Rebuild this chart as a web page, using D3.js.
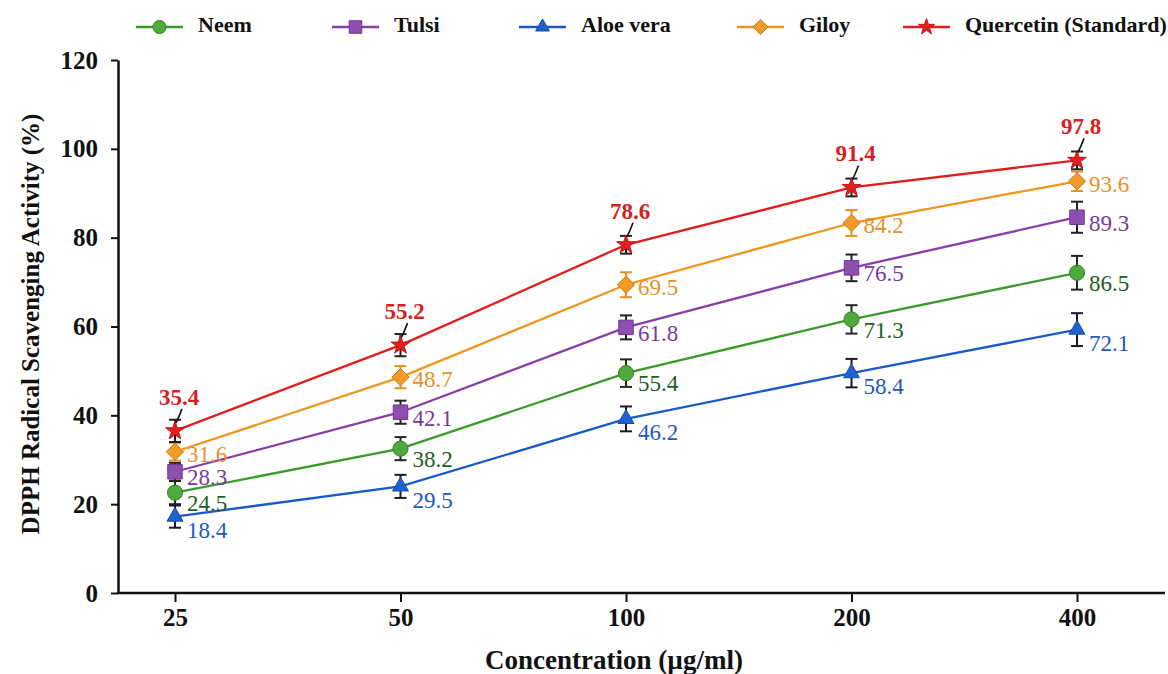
<html><head>
<meta charset="utf-8">
<title>DPPH Radical Scavenging Activity</title>
<script src="https://d3js.org/d3.v7.min.js"></script>
<style>
  body { margin: 0; background: #ffffff; }
  svg text { font-family: "Liberation Serif", "Times New Roman", serif; }
</style>
</head>
<body>
<svg id="plot" width="1168" height="674"></svg>
<script>

// concentrations (µg/ml)
const concentrations = ["25", "50", "100", "200", "400"];

const seriesNames = ["Neem", "Tulsi", "Aloe vera", "Giloy", "Quercetin (Standard)"];

// plotted means
const neemValues      = [22.6, 32.5, 49.5, 61.6, 72.1];
const tulsiValues     = [27.3, 40.7, 59.8, 73.2, 84.6];
const aloeValues      = [17.2, 24.0, 39.2, 49.5, 59.3];
const giloyValues     = [31.8, 48.6, 69.4, 83.3, 92.7];
const quercetinValues = [36.5, 55.8, 78.4, 91.3, 97.4];

// error bar half-lengths
const neemErr      = [2.6, 2.6, 3.1, 3.2, 3.8];
const tulsiErr     = [2.0, 2.6, 2.7, 3.0, 3.5];
const aloeErr      = [2.5, 2.6, 2.8, 3.2, 3.7];
const giloyErr     = [2.0, 2.5, 2.8, 2.9, 2.2];
const quercetinErr = [2.5, 2.5, 2.0, 2.0, 2.0];

// value labels as printed in the figure
const neemLabels      = ["24.5", "38.2", "55.4", "71.3", "86.5"];
const tulsiLabels     = ["28.3", "42.1", "61.8", "76.5", "89.3"];
const aloeLabels      = ["18.4", "29.5", "46.2", "58.4", "72.1"];
const giloyLabels     = ["31.6", "48.7", "69.5", "84.2", "93.6"];
const quercetinLabels = ["35.4", "55.2", "78.6", "91.4", "97.8"];

const yTicks = [0, 20, 40, 60, 80, 100, 120];

const symDiamond = d3.symbolDiamond2 || d3.symbolDiamond;

const series = [
  {name: seriesNames[0], values: neemValues, err: neemErr, labels: neemLabels,
   color: "#3a9a2c", fill: "#4eaa3c", text: "#1d5e22", errColor: "#1f2a1f",
   symbol: d3.symbolCircle, size: 180, labelDy: 13},
  {name: seriesNames[1], values: tulsiValues, err: tulsiErr, labels: tulsiLabels,
   color: "#8a3fa8", fill: "#8e4fb0", text: "#7a3a9c", errColor: "#222",
   symbol: d3.symbolSquare, size: 210, labelDy: 8},
  {name: seriesNames[2], values: aloeValues, err: aloeErr, labels: aloeLabels,
   color: "#1a5ac8", fill: "#1f63d0", text: "#1d58c0", errColor: "#1a1a2a",
   symbol: d3.symbolTriangle, size: 110, labelDy: 16},
  {name: seriesNames[3], values: giloyValues, err: giloyErr, labels: giloyLabels,
   color: "#f0961e", fill: "#f29a28", text: "#ec8f26", errColor: "#e8901e",
   symbol: symDiamond, size: 190, labelDy: 5},
  {name: seriesNames[4], values: quercetinValues, err: quercetinErr, labels: quercetinLabels,
   color: "#e01e1e", fill: "#e21f1f", text: "#d81e1e", errColor: "#222",
   symbol: d3.symbolStar, size: 110, labelDy: 0}
];

const svg = d3.select("svg#plot");

const x = d3.scalePoint().domain(concentrations).range([175, 1077]);
const y = d3.scaleLinear().domain([0, 120]).range([593, 60]);
const plotLeft = 118, plotRight = 1165;

// ---- axes ----
let yAxis = svg.append("g")
   .attr("transform", "translate(" + plotLeft + ",0)")
   .call(d3.axisLeft(y).tickValues(yTicks).tickSize(7).tickSizeOuter(0));
yAxis.select(".domain").attr("stroke", "#111").attr("stroke-width", 2.5);
yAxis.selectAll(".tick line").attr("stroke", "#111").attr("stroke-width", 2);
yAxis.selectAll(".tick text")
     .attr("x", -20)
     .attr("font-size", 25).attr("font-weight", "bold").attr("fill", "#111")
     .style("font-family", "'Liberation Serif', serif");

let xAxis = svg.append("g")
   .attr("transform", "translate(0," + y(0) + ")")
   .call(d3.axisBottom(x).tickSize(9).tickSizeOuter(0));
xAxis.select(".domain").remove();
xAxis.selectAll(".tick line").attr("stroke", "#111").attr("stroke-width", 2);
xAxis.selectAll(".tick text")
     .attr("y", 15)
     .attr("font-size", 25).attr("font-weight", "bold").attr("fill", "#111")
     .style("font-family", "'Liberation Serif', serif");
svg.append("line")
   .attr("x1", plotLeft - 1).attr("x2", plotRight)
   .attr("y1", y(0)).attr("y2", y(0))
   .attr("stroke", "#111").attr("stroke-width", 2.5);

// axis titles
svg.append("text")
   .attr("transform", "translate(33,324) rotate(-90)")
   .attr("text-anchor", "middle").attr("dominant-baseline", "middle")
   .attr("font-size", 25).attr("font-weight", "bold").attr("fill", "#111")
   .text("DPPH Radical Scavenging Activity (%)");

svg.append("text")
   .attr("x", 614).attr("y", 663)
   .attr("text-anchor", "middle").attr("dominant-baseline", "middle")
   .attr("font-size", 27).attr("font-weight", "bold").attr("fill", "#111")
   .text("Concentration (µg/ml)");

// ---- series ----
const line = d3.line()
   .x((d, i) => x(concentrations[i]))
   .y(d => y(d));
const symbolGen = d3.symbol();

let chart = svg.append("g");

series.forEach(s => {
  chart.append("path")
       .attr("d", line(s.values))
       .attr("fill", "none")
       .attr("stroke", s.color)
       .attr("stroke-width", 2.3);
});

series.forEach(s => {
  let g = chart.append("g");
  s.values.forEach((v, i) => {
    let cx = x(concentrations[i]);
    let top = y(v + s.err[i]), bot = y(v - s.err[i]);
    g.append("line").attr("x1", cx).attr("x2", cx).attr("y1", top).attr("y2", bot)
     .attr("stroke", s.errColor).attr("stroke-width", 2);
    [top, bot].forEach(cy => {
      g.append("line").attr("x1", cx - 6).attr("x2", cx + 6).attr("y1", cy).attr("y2", cy)
       .attr("stroke", s.errColor).attr("stroke-width", 2);
    });
  });
});

series.forEach(s => {
  chart.append("g").selectAll("path")
       .data(s.values)
       .join("path")
       .attr("d", symbolGen.type(s.symbol).size(s.size)())
       .attr("transform", (d, i) => "translate(" + x(concentrations[i]) + "," + y(d) + ")")
       .attr("fill", s.fill)
       .attr("stroke", d3.color(s.color).darker(0.5))
       .attr("stroke-width", 1);
});

// value labels
series.forEach((s, si) => {
  let isStd = si === 4;
  s.values.forEach((v, i) => {
    let cx = x(concentrations[i]), cy = y(v);
    if (isStd) {
      svg.append("path")
         .attr("d", "M" + (cx + 7) + "," + (cy - 22) + " Q" + (cx + 4) + "," + (cy - 14) + " " + (cx + 1) + "," + (cy - 8))
         .attr("fill", "none").attr("stroke", "#111").attr("stroke-width", 1.6);
      svg.append("text")
         .attr("x", cx + 4).attr("y", cy - 26)
         .attr("text-anchor", "middle")
         .attr("font-size", 23).attr("font-weight", "bold").attr("fill", s.text)
         .text(s.labels[i]);
    } else {
      svg.append("text")
         .attr("x", cx + 12).attr("y", cy + s.labelDy)
         .attr("dominant-baseline", "middle")
         .attr("font-size", 23).attr("fill", s.text)
         .text(s.labels[i]);
    }
  });
});

// ---- legend ----
const legendX = [136, 332, 519, 737, 903];
let legend = svg.append("g").attr("transform", "translate(0,27)");
series.forEach((s, i) => {
  let lg = legend.append("g").attr("transform", "translate(" + legendX[i] + ",0)");
  lg.append("line").attr("x1", 0).attr("x2", 47).attr("y1", 0).attr("y2", 0)
    .attr("stroke", s.color).attr("stroke-width", 2.3);
  lg.append("path")
    .attr("d", symbolGen.type(s.symbol).size(s.size * 0.75)())
    .attr("transform", "translate(23.5,0)")
    .attr("fill", s.fill)
    .attr("stroke", d3.color(s.color).darker(0.5)).attr("stroke-width", 1);
  lg.append("text")
    .attr("x", 62).attr("y", 0)
    .attr("dominant-baseline", "middle")
    .attr("font-size", 22).attr("font-weight", "bold").attr("fill", "#111")
    .text(s.name);
});

</script>
</body>
</html>
